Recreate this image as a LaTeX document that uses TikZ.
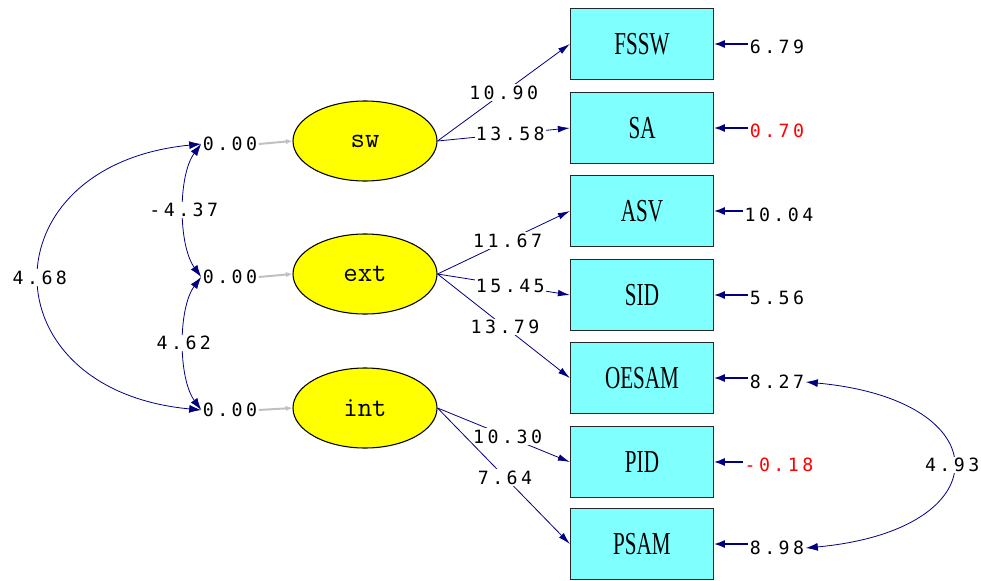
\documentclass[tikz,border=0pt]{standalone}
\usepackage{fontspec}
\usetikzlibrary{arrows.meta,shapes.geometric}
\newfontfamily\numfont[LetterSpace=19]{DejaVu Sans Mono}
\newfontfamily\obsfont{Liberation Serif}
\definecolor{lisnavy}{RGB}{0,0,128}
\definecolor{obscyan}{RGB}{128,255,255}
\definecolor{latyellow}{RGB}{255,255,0}
\definecolor{errred}{RGB}{255,0,0}
\definecolor{meangray}{RGB}{192,192,192}
\newcommand{\narrow}[1]{\scalebox{0.66}[1]{#1}}
\begin{document}
\begin{tikzpicture}[x=0.75pt,y=-0.75pt,
  num/.style={font=\numfont\fontsize{13.7}{14}\selectfont,fill=white,inner sep=1pt},
  latent/.style={draw,ellipse,fill=latyellow,line width=0.8pt,minimum width=108pt,minimum height=60pt,font=\ttfamily\fontsize{21}{22}\selectfont},
  obs/.style={draw=black!85,line width=1.2pt,fill=obscyan,minimum width=107pt,minimum height=53pt,font=\obsfont\fontsize{24}{26}\selectfont},
  load/.style={draw=lisnavy,line width=0.6pt,-{Latex[length=9pt,width=5pt]}},
  errarr/.style={draw=lisnavy,line width=1pt,-{Latex[length=8pt,width=6pt]}},
  cov/.style={draw=lisnavy,line width=0.6pt,{Latex[length=9pt,width=6pt]}-{Latex[length=9pt,width=6pt]}},
  mean/.style={draw=meangray,line width=1.5pt,-{Latex[length=5pt,width=4pt]}}]
  \useasboundingbox (0,0) rectangle (981,581);
  % latent variables
  \node[latent] (sw) at (365,141) {sw};
  \node[latent] (ext) at (365,274) {ext};
  \node[latent] (int) at (365,408) {int};
  % means
  \node[num] (z1) at (230,144) {0.00};
  \node[num] (z2) at (230,277) {0.00};
  \node[num] (z3) at (230,410) {0.00};
  \draw[mean] (z1.east) -- (sw.west);
  \draw[mean] (z2.east) -- (ext.west);
  \draw[mean] (z3.east) -- (int.west);
  % indicators
  \node[obs] (fssw) at (642,44) {\narrow{FSSW}};
  \node[obs] (sa) at (642,128) {\narrow{SA}};
  \node[obs] (asv) at (642,211) {\narrow{ASV}};
  \node[obs] (sid) at (642,295) {\narrow{SID}};
  \node[obs] (oesam) at (642,378) {\narrow{OESAM}};
  \node[obs] (pid) at (642,462) {\narrow{PID}};
  \node[obs] (psam) at (642,544) {\narrow{PSAM}};
  % loadings
  \draw[load] (sw.east) -- node[num,pos=0.5] {10.90} (fssw.west);
  \draw[load] (sw.east) -- node[num,pos=0.55] {13.58} (sa.west);
  \draw[load] (ext.east) -- node[num,pos=0.53] {11.67} (asv.west);
  \draw[load] (ext.east) -- node[num,pos=0.55] {15.45} (sid.west);
  \draw[load] (ext.east) -- node[num,pos=0.51] {13.79} (oesam.west);
  \draw[load] (int.east) -- node[num,pos=0.53] {10.30} (pid.west);
  \draw[load] (int.east) -- node[num,pos=0.51] {7.64} (psam.west);
  % error variances
  \node[num] (e1) at (777,47) {6.79};
  \node[num,text=errred] (e2) at (777,131) {0.70};
  \node[num] (e3) at (779,215) {10.04};
  \node[num] (e4) at (777,298) {5.56};
  \node[num] (e5) at (777,382) {8.27};
  \node[num,text=errred] (e6) at (779,465) {-0.18};
  \node[num] (e7) at (777,548) {8.98};
  \draw[errarr] (e1.west |- fssw.east) -- (fssw.east);
  \draw[errarr] (e2.west |- sa.east) -- (sa.east);
  \draw[errarr] (e3.west |- asv.east) -- (asv.east);
  \draw[errarr] (e4.west |- sid.east) -- (sid.east);
  \draw[errarr] (e5.west |- oesam.east) -- (oesam.east);
  \draw[errarr] (e6.west |- pid.east) -- (pid.east);
  \draw[errarr] (e7.west |- psam.east) -- (psam.east);
  % covariances
  \draw[cov] (z1.west) .. controls (-14,165) and (-14,390) .. node[num] {4.68} (z3.west);
  \draw[cov] (z1.west) .. controls (178,175) and (178,245) .. node[num] {-4.37} (z2.west);
  \draw[cov] (z2.west) .. controls (178,308) and (178,378) .. node[num] {4.62} (z3.west);
  \draw[cov] (e5.east) .. controls (1001,400) and (1001,530) .. node[num] {4.93} (e7.east);
\end{tikzpicture}
\end{document}
